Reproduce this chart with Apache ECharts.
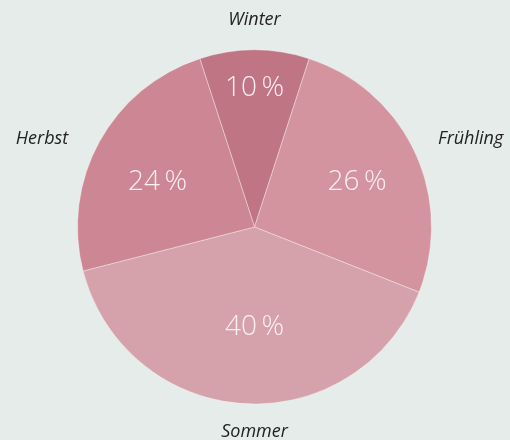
<!DOCTYPE html>
<html>
<head>
<meta charset="utf-8">
<script src="https://cdn.jsdelivr.net/npm/echarts@6/dist/echarts.min.js"></script>
<style>
  html, body { margin: 0; padding: 0; background: #e5ecea; }
  #chart { width: 510px; height: 440px; }
</style>
</head>
<body>
<div id="chart"></div>
<script>
// data
const seasons = ['Winter', 'Frühling', 'Sommer', 'Herbst']
const shares = [10, 26, 40, 24]
const colors = ['#c07584', '#d394a0', '#d5a2ac', '#cd8694']

const startAngle = 108
const cx = 254.5, cy = 227, R = 177
// label placement tweaks (distance px, angle offset deg)
const innerDist = [139, 112, 100, 107]
const innerShift = [0, -1.5, 3.6, 3.8]
const outerDist = [207, 203.5, 205, 206]
const outerShift = [0, 0.4, 3.6, 3.5]

const total = shares.reduce((a, b) => a + b, 0)
function midAngle(i, shift) {
    let before = 0
    for (let k = 0; k < i; k++) before += shares[k]
    return (startAngle - (before + shares[i] / 2) / total * 360 + shift) * Math.PI / 180
}

const chart = echarts.init(document.getElementById('chart'))

chart.setOption({
    backgroundColor: '#e5ecea',
    animation: false,
    series: [
        {
            // slices + outer names
            type: 'pie',
            center: [cx, cy],
            radius: [0, R],
            startAngle: startAngle,
            clockwise: true,
            itemStyle: { borderColor: 'rgba(255,255,255,0.35)', borderWidth: 1 },
            label: {
                show: true,
                formatter: '{b}',
                overflow: 'none',
                width: 120,
                fontFamily: 'Open Sans',
                fontStyle: 'italic',
                fontSize: 18,
                color: '#222'
            },
            labelLine: { show: false },
            labelLayout: function (p) {
                const i = p.dataIndex
                const a = midAngle(i, outerShift[i])
                const c = Math.cos(a)
                let align = 'center'
                if (c > 0.3) align = 'left'
                else if (c < -0.3) align = 'right'
                return {
                    x: cx + outerDist[i] * c,
                    y: cy - outerDist[i] * Math.sin(a),
                    align: align,
                    verticalAlign: 'middle'
                }
            },
            emphasis: { disabled: true },
            data: seasons.map((name, i) => ({
                name: name,
                value: shares[i],
                itemStyle: { color: colors[i] }
            }))
        },
        {
            // percentage labels inside
            type: 'pie',
            silent: true,
            center: [cx, cy],
            radius: [0, R],
            startAngle: startAngle,
            clockwise: true,
            itemStyle: { color: 'transparent', borderWidth: 0 },
            label: {
                show: true,
                position: 'inside',
                formatter: '{c}\u2009%',
                fontFamily: 'Open Sans',
                fontWeight: 300,
                fontSize: 28,
                color: '#fbeff1'
            },
            labelLine: { show: false },
            labelLayout: function (p) {
                const i = p.dataIndex
                const a = midAngle(i, innerShift[i])
                return {
                    x: cx + innerDist[i] * Math.cos(a),
                    y: cy - innerDist[i] * Math.sin(a),
                    align: 'center',
                    verticalAlign: 'middle'
                }
            },
            data: seasons.map((name, i) => ({ name: name, value: shares[i] }))
        }
    ]
})
</script>
</body>
</html>
